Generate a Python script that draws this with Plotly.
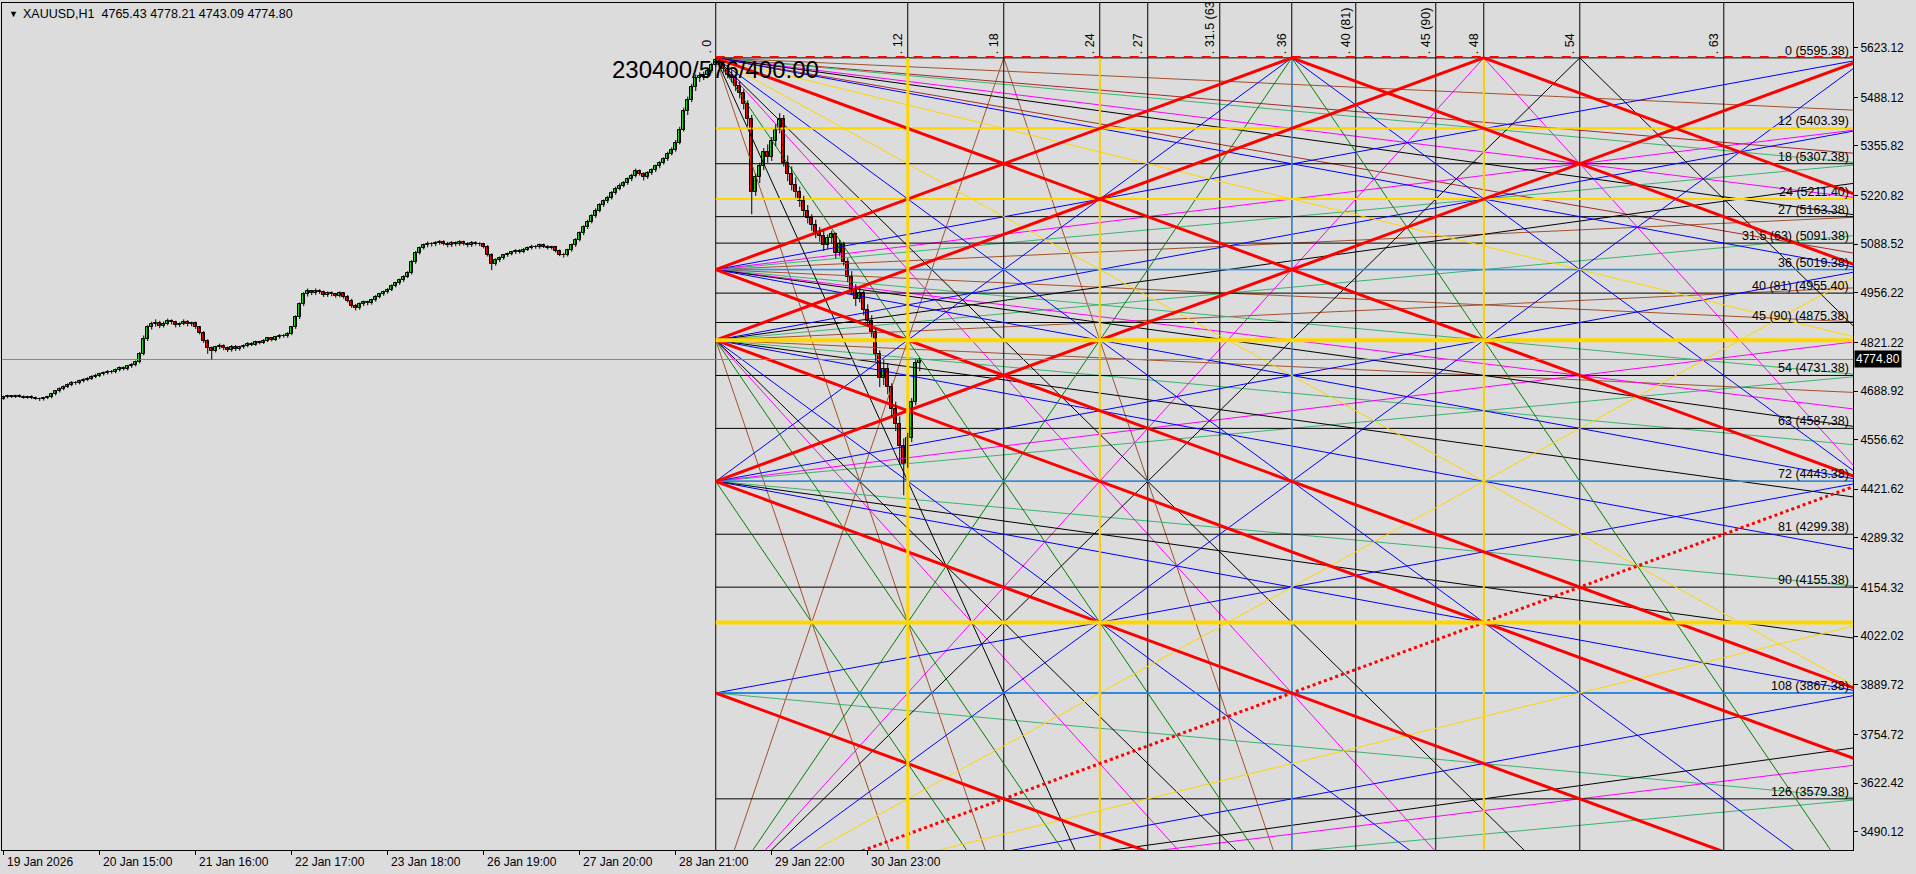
import plotly.graph_objects as go

# ---------------- candle data (H1 bars, index 0 = 19 Jan 2026 00:00) ----------------
opens = [
4668,4672,4675,4673,4676,4674,4671,4673,4670,4668,4666,4669,
4672,4680,4688,4695,4700,4706,4712,4710,4716,4720,4722,4728,
4731,4735,4738,4742,4740,4746,4752,4749,4756,4760,4768,4790,
4830,4862,4870,4875,4866,4872,4880,4876,4868,4872,4878,4870,
4874,4862,4848,4825,4805,4798,4808,4812,4806,4800,4810,4803,
4808,4812,4818,4815,4822,4820,4826,4832,4828,4835,4840,4838,
4845,4862,4890,4925,4952,4960,4955,4962,4958,4950,4956,4952,
4948,4955,4945,4935,4920,4915,4925,4930,4928,4936,4945,4952,
4958,4965,4975,4982,4990,5000,5010,5040,5065,5078,5085,5090,
5088,5092,5095,5090,5086,5092,5088,5094,5090,5085,5092,5090,
5088,5082,5060,5035,5045,5050,5058,5062,5066,5070,5068,5074,
5078,5082,5080,5086,5082,5078,5080,5070,5060,5058,5072,5085,
5100,5118,5135,5150,5165,5180,5195,5205,5215,5228,5240,5248,
5255,5265,5275,5288,5280,5272,5282,5290,5300,5310,5320,5335,
5345,5365,5400,5450,5480,5515,5540,5545,5548,5560,5575,5590,
5575,5565,5550,5540,5520,5500,5470,5430,5230,5270,5300,5340,
5325,5370,5400,5430,5310,5280,5250,5230,5205,5180,5160,5140,
5120,5110,5085,5105,5115,5065,5090,5040,5000,4965,4940,4955,
4910,4880,4850,4790,4725,4750,4700,4640,4600,4540,4490,4560,4660,4765.43]
highs = [
4676,4679,4678,4679,4680,4677,4676,4677,4674,4671,4672,4676,
4684,4692,4699,4704,4710,4716,4716,4720,4724,4727,4732,4736,
4739,4742,4746,4746,4750,4756,4756,4760,4765,4772,4795,4840,
4868,4878,4884,4880,4878,4886,4884,4880,4876,4884,4882,4878,
4878,4866,4852,4830,4810,4812,4818,4816,4810,4814,4814,4812,
4816,4822,4822,4826,4826,4830,4836,4836,4839,4844,4844,4849,
4866,4895,4930,4958,4968,4964,4968,4966,4962,4960,4960,4956,
4960,4958,4950,4940,4926,4930,4935,4935,4940,4950,4956,4962,
4969,4979,4986,4995,5004,5015,5045,5070,5082,5090,5096,5094,
5097,5100,5099,5095,5097,5096,5099,5098,5094,5097,5096,5094,
5092,5086,5064,5050,5055,5062,5066,5070,5075,5075,5078,5082,
5087,5086,5090,5090,5086,5084,5084,5074,5065,5076,5090,5105,
5123,5140,5155,5170,5186,5200,5210,5220,5233,5245,5254,5260,
5270,5280,5294,5292,5284,5287,5295,5305,5315,5325,5340,5352,
5372,5408,5460,5490,5525,5550,5556,5558,5568,5582,5595.38,5594,
5585,5575,5562,5550,5532,5510,5480,5440,5280,5310,5350,5360,
5380,5415,5445,5440,5330,5300,5270,5245,5220,5195,5170,5155,
5135,5125,5115,5125,5120,5100,5095,5050,5015,4980,4970,4962,
4925,4895,4860,4800,4775,4765,4710,4660,4620,4560,4575,4670,4775,4778.21]
lows = [
4665,4669,4670,4670,4671,4668,4668,4667,4665,4662,4663,4667,
4669,4677,4685,4691,4697,4702,4706,4707,4712,4716,4719,4724,
4727,4731,4734,4736,4737,4742,4745,4745,4752,4756,4764,4786,
4825,4856,4864,4860,4862,4868,4870,4862,4863,4868,4865,4865,
4858,4843,4820,4790,4775,4794,4803,4800,4795,4796,4798,4799,
4804,4808,4811,4812,4816,4817,4822,4824,4825,4831,4834,4834,
4841,4858,4885,4920,4946,4950,4950,4953,4945,4945,4947,4943,
4944,4940,4930,4915,4908,4910,4920,4922,4924,4932,4941,4948,
4954,4961,4971,4978,4986,4996,5006,5035,5060,5074,5080,5082,
5083,5087,5085,5080,5081,5083,5084,5085,5080,5081,5085,5083,
5077,5055,5018,5030,5040,5046,5054,5058,5062,5063,5064,5070,
5074,5076,5076,5078,5074,5074,5066,5056,5052,5055,5068,5081,
5096,5113,5130,5145,5160,5175,5190,5200,5210,5223,5235,5243,
5250,5260,5270,5275,5262,5266,5277,5285,5295,5305,5315,5330,
5340,5360,5395,5440,5475,5505,5530,5535,5540,5555,5570,5565,
5555,5540,5528,5505,5485,5455,5410,5170,5220,5255,5290,5310,
5315,5355,5390,5300,5260,5235,5215,5190,5165,5145,5125,5105,
5095,5070,5075,5090,5050,5055,5030,4985,4950,4920,4930,4895,
4865,4835,4770,4700,4705,4680,4620,4580,4490,4405,4480,4550,4650,4743.09]
closes = [
4672,4675,4673,4676,4674,4671,4673,4670,4668,4666,4669,4672,
4680,4688,4695,4700,4706,4712,4710,4716,4720,4722,4728,4731,
4735,4738,4742,4740,4746,4752,4749,4756,4760,4768,4790,4830,
4862,4870,4875,4866,4872,4880,4876,4868,4872,4878,4870,4874,
4862,4848,4825,4805,4798,4808,4812,4806,4800,4810,4803,4808,
4812,4818,4815,4822,4820,4826,4832,4828,4835,4840,4838,4845,
4862,4890,4925,4952,4960,4955,4962,4958,4950,4956,4952,4948,
4955,4945,4935,4920,4915,4925,4930,4928,4936,4945,4952,4958,
4965,4975,4982,4990,5000,5010,5040,5065,5078,5085,5090,5088,
5092,5095,5090,5086,5092,5088,5094,5090,5085,5092,5090,5088,
5082,5060,5035,5045,5050,5058,5062,5066,5070,5068,5074,5078,
5082,5080,5086,5082,5078,5080,5070,5060,5058,5072,5085,5100,
5118,5135,5150,5165,5180,5195,5205,5215,5228,5240,5248,5255,
5265,5275,5288,5280,5272,5282,5290,5300,5310,5320,5335,5345,
5365,5400,5450,5480,5515,5540,5545,5548,5560,5575,5590,5575,
5565,5550,5540,5520,5500,5470,5430,5230,5270,5300,5340,5325,
5370,5400,5430,5310,5280,5250,5230,5205,5180,5160,5140,5120,
5110,5085,5105,5115,5065,5090,5040,5000,4965,4940,4955,4910,
4880,4850,4790,4725,4750,4700,4640,4600,4540,4490,4560,4660,4765.43,4774.80]

# time-axis labels (every 24 bars)
time_tick_bars = [0, 24, 48, 72, 96, 120, 144, 168, 192, 216]
time_tick_labels = ["19 Jan 2026", "20 Jan 15:00", "21 Jan 16:00", "22 Jan 17:00", "23 Jan 18:00",
                    "26 Jan 19:00", "27 Jan 20:00", "28 Jan 21:00", "29 Jan 22:00", "30 Jan 23:00"]
# price-axis labels
price_ticks = [5623.12, 5488.12, 5355.82, 5220.82, 5088.52, 4956.22, 4821.22, 4688.92, 4556.62,
               4421.62, 4289.32, 4154.32, 4022.02, 3889.72, 3754.72, 3622.42, 3490.12]

# ---------------- Gann grid ----------------
grid_origin_bar = 178          # bar of the high
grid_origin_price = 5595.38
bars_per_unit = 4
price_per_unit = 16.0
grid_title = "230400/576/400.00"

h_levels = [0, 12, 18, 24, 27, 31.5, 36, 40, 45, 48, 54, 63, 72, 81, 90, 96, 108, 126]
h_labels = ["0 (5595.38)", "12 (5403.39)", "18 (5307.38)", "24 (5211.40)", "27 (5163.38)",
            "31.5 (63) (5091.38)", "36 (5019.38)", "40 (81) (4955.40)", "45 (90) (4875.38)", "",
            "54 (4731.38)", "63 (4587.38)", "72 (4443.38)", "81 (4299.38)", "90 (4155.38)", "",
            "108 (3867.38)", "126 (3579.38)"]
v_levels = [0, 12, 18, 24, 27, 31.5, 36, 40, 45, 48, 54, 63]
v_labels = [". 0", ". 12", ". 18", ". 24", ". 27", ". 31.5 (63", ". 36", ". 40 (81)", ". 45 (90)",
            ". 48", ". 54", ". 63"]

# fans: (t0, level0, direction (+1 = falling price, -1 = rising price), slopes in levels per time unit)
fan_specs = [
    (0, 0, 1, [1/8, 0.228, 1/4, 1/3, 3/8, 0.467, 1/2, 2/3, 1, 3/2, 2, 8/3, 3, 4, 6, 8]),
    (0, 36, -1, [1/8, 1/4, 1/3, 1/2, 1]),
    (0, 36, 1, [1/8, 1/4, 1/3, 3/8, 1/2, 1]),
    (0, 48, -1, [1/8, 1/4, 3/8, 1/2, 1]),
    (0, 48, 1, [1/8, 1/4, 3/8, 1/2, 1, 2, 8/3, 3, 4, 8]),
    (0, 72, -1, [1/4, 1/3, 1/2, 1, 2]),
    (0, 72, 1, [1/4, 3/8, 1/2, 1, 4]),
    (0, 108, -1, [1/2]),
    (0, 108, 1, [1/4, 1]),
    (0, 144, -1, [1/4, 1/3, 3/8, 1/2, 2/3, 1, 3/2, 2, 8/3, 3, 4, 8]),
]

last_price = 4774.80

# ---------------- styling ----------------
BG = "#DCDCDC"
FONT = "Liberation Sans"
slope_color = {1/8: "#A0522D", 0.228: "#A52A2A", 1/4: "#3CB371", 1/3: "#FF00FF", 3/8: "#000000",
               0.467: "#A52A2A", 1/2: "#0000FF", 2/3: "#FFD700", 1: "#FF0000", 3/2: "#FFD700",
               2: "#0000FF", 8/3: "#000000", 3: "#FF00FF", 4: "#008000", 6: "#000000", 8: "#A0522D"}
h_style = {12: ("#FFD700", 2), 24: ("#FFD700", 2), 36: ("#1E90FF", 1.5), 48: ("#FFD700", 4),
           72: ("#1E90FF", 1.5), 96: ("#FFD700", 4), 108: ("#1E90FF", 1.5)}
v_style = {12: ("#FFD700", 3), 24: ("#FFD700", 2), 36: ("#1E90FF", 1.5), 48: ("#FFD700", 2)}

X_MIN, X_MAX = -0.425, 462.3
Y_MIN, Y_MAX = 3440.2, 5744.7
T_MAX = (X_MAX - grid_origin_bar) / bars_per_unit + 1
L_MAX = (grid_origin_price - Y_MIN) / price_per_unit + 4


def gx(t):
    return grid_origin_bar + bars_per_unit * t


def gy(L):
    return grid_origin_price - price_per_unit * L


def ray(t0, L0, s, d):
    if d > 0:
        t_end = min(T_MAX, t0 + (L_MAX - L0) / s)
        return [(t0, L0), (t_end, L0 + s * (t_end - t0))]
    t_hit = t0 + L0 / s
    if t_hit >= T_MAX:
        return [(t0, L0), (T_MAX, L0 - s * (T_MAX - t0))]
    t_end = min(T_MAX, t_hit + L_MAX / s)
    return [(t0, L0), (t_hit, 0), (t_end, s * (t_end - t_hit))]


fig = go.Figure()
groups = {}


def add_seg(key, pts):
    xs, ys = groups.setdefault(key, ([], []))
    for t, L in pts:
        xs.append(gx(t))
        ys.append(gy(L))
    xs.append(None)
    ys.append(None)


for (t0, L0, d, slopes) in fan_specs:
    for s in slopes:
        col = slope_color[s]
        if s == 1:
            key = (col, 3, "dot" if L0 == 144 else "solid")
        else:
            key = (col, 1, "solid")
        add_seg(key, ray(t0, L0, s, d))

for L in h_levels:
    add_seg(("#000000", 1, "solid"), [(0, L), (T_MAX, L)])
for L in h_levels:
    if L in h_style:
        c, w = h_style[L]
        add_seg((c, w, "solid"), [(0, L), (T_MAX, L)])
for t in v_levels:
    add_seg(("#000000", 1, "solid"), [(t, -30), (t, L_MAX)])
for t in v_levels:
    if t in v_style:
        c, w = v_style[t]
        add_seg((c, w, "solid"), [(t, 0), (t, L_MAX)])

order = sorted(groups.keys(), key=lambda k: (k[1] >= 3, k[0] == "#FFD700"))
for key in order:
    c, w, dash = key
    xs, ys = groups[key]
    fig.add_trace(go.Scatter(x=xs, y=ys, mode="lines", line=dict(color=c, width=w, dash=dash),
                             hoverinfo="skip", showlegend=False))

# red dashed zero level
fig.add_trace(go.Scatter(x=[gx(0), gx(T_MAX)], y=[gy(0) + 3, gy(0) + 3], mode="lines",
                         line=dict(color="#FF0000", width=1.5, dash="dash"), hoverinfo="skip",
                         showlegend=False))
# current price line
fig.add_trace(go.Scatter(x=[X_MIN, X_MAX], y=[last_price, last_price], mode="lines",
                         line=dict(color="#778899", width=1), hoverinfo="skip", showlegend=False))

# candles: wicks + bodies
bars = list(range(len(closes)))
wx, wy = [], []
for i in bars:
    wx += [i, i, None]
    wy += [lows[i], highs[i], None]
fig.add_trace(go.Scatter(x=wx, y=wy, mode="lines", line=dict(color="#000000", width=1),
                         hoverinfo="skip", showlegend=False))
body_base = [min(o, c) for o, c in zip(opens, closes)]
body_h = [max(abs(c - o), 1.5) for o, c in zip(opens, closes)]
body_col = ["#32CD32" if c >= o else "#FF0000" for o, c in zip(opens, closes)]
fig.add_trace(go.Bar(x=bars, y=body_h, base=body_base, width=0.8,
                     marker=dict(color=body_col, line=dict(color="#000000", width=1)),
                     hoverinfo="skip", showlegend=False))

ann = []
for L, lab in zip(h_levels, h_labels):
    if lab:
        ann.append(dict(x=1.0, xref="paper", y=gy(L), yref="y", text=lab, showarrow=False,
                        xanchor="right", yanchor="bottom", xshift=-2, yshift=-2,
                        font=dict(family=FONT, size=12.5, color="#000000")))
for t, lab in zip(v_levels, v_labels):
    ann.append(dict(x=gx(t), y=gy(0), text=lab, showarrow=False, textangle=-90,
                    xanchor="right", yanchor="bottom", xshift=0, yshift=2,
                    font=dict(family=FONT, size=12.5, color="#000000")))
ann.append(dict(x=gx(0), y=5563.5, text=grid_title, showarrow=False, xanchor="center",
                yanchor="middle", font=dict(family=FONT, size=24, color="#000000")))
for b, lab in zip(time_tick_bars, time_tick_labels):
    ann.append(dict(x=b, xref="x", y=0, yref="paper", text=lab, showarrow=False,
                    xanchor="left", yanchor="top", xshift=1, yshift=-3,
                    font=dict(family=FONT, size=12, color="#000000")))
ann.append(dict(x=0, xref="paper", y=1, yref="paper", text="\u25BC",
                showarrow=False, xanchor="left", yanchor="top", xshift=5, yshift=-4,
                font=dict(family=FONT, size=9, color="#000000")))
ann.append(dict(x=0, xref="paper", y=1, yref="paper", text="XAUUSD,H1  4765.43 4778.21 4743.09 4774.80",
                showarrow=False, xanchor="left", yanchor="top", xshift=19, yshift=-2,
                font=dict(family=FONT, size=12.5, color="#000000")))
ann.append(dict(x=1.0, xref="paper", y=last_price, yref="y", text="4774.80", showarrow=False,
                xanchor="left", yanchor="middle", xshift=1, bgcolor="#000000",
                font=dict(family=FONT, size=12, color="#FFFFFF"), borderpad=1))

fig.update_layout(
    width=1916, height=874, autosize=False,
    margin=dict(l=2, r=63, t=3, b=24),
    paper_bgcolor=BG, plot_bgcolor=BG,
    annotations=ann, showlegend=False, hovermode=False, bargap=0,
    xaxis=dict(range=[X_MIN, X_MAX], showgrid=False, zeroline=False, showline=True,
               linecolor="#000000", linewidth=1, mirror=True, ticks="outside", ticklen=4,
               tickcolor="#000000", tickvals=time_tick_bars, showticklabels=False, fixedrange=True),
    yaxis=dict(range=[Y_MIN, Y_MAX], side="right", showgrid=False, zeroline=False, showline=True,
               linecolor="#000000", linewidth=1, mirror=True, ticks="outside", ticklen=4,
               tickcolor="#000000", tickvals=price_ticks,
               ticktext=["%.2f" % p for p in price_ticks],
               tickfont=dict(family=FONT, size=12, color="#000000"), fixedrange=True),
)

fig.write_html("out.html", config={"displayModeBar": False},
               post_script="document.body.style.margin='0';document.body.style.overflow='hidden';")
